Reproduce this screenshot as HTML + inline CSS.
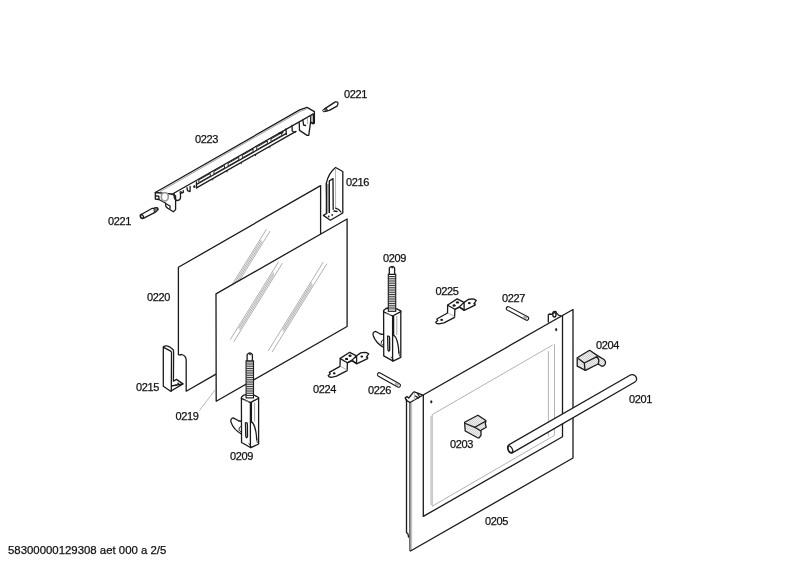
<!DOCTYPE html>
<html><head><meta charset="utf-8"><style>
html,body{margin:0;padding:0;background:#fff;width:800px;height:566px;overflow:hidden}
svg{position:absolute;left:0;top:0}
#labels{filter:grayscale(1)}
text{font-family:"Liberation Sans",sans-serif;font-size:11px;fill:#111;stroke:#111;stroke-width:0.25px;letter-spacing:-0.4px}
.d{fill:none;stroke:#1a1a1a;stroke-width:1.3;stroke-linejoin:round;stroke-linecap:round}
.l{fill:none;stroke:#aaa;stroke-width:0.9}
.w{fill:#fff;stroke:#1a1a1a;stroke-width:1.3;stroke-linejoin:round}
.g{fill:url(#st);stroke:#1a1a1a;stroke-width:1.3;stroke-linejoin:round}
</style></head><body>
<svg width="800" height="566" viewBox="0 0 800 566">

<!-- GLASS 0220 -->
<g id="glass">
<path class="d" d="M320.6,234 L320.6,185.6 L178.4,267.3 L178.4,354.5 L179.2,355.1 L181.8,354.5 Q186.2,356 186.2,360 L186.2,391.2 L216,374.1"/>
<g class="l" style="stroke:#8e8e8e;stroke-width:0.7">
<path d="M266.40,229.30 L228.77,290.00 M270.08,231.10 L233.57,290.00 M261.37,240.00 L230.37,290.00 M262.04,241.50 L231.04,291.50"/>
</g>
<!-- GLASS 0219 -->
<path class="w" d="M216,293.85 L347.1,219 L347.1,326.5 L216.2,401.3 Z"/>
<g class="l" style="stroke:#8e8e8e;stroke-width:0.7">
<path d="M278.60,261.70 L230.30,339.60 M282.47,263.20 L233.61,342.00 M273.50,272.50 L238.85,328.40 M274.17,274.00 L239.52,329.90"/>
<path d="M323.30,262.00 L268.12,351.00 M326.91,263.60 L272.10,352.00 M311.81,283.00 L282.67,330.00 M312.42,284.50 L283.28,331.50"/>
</g>
<line x1="199.4" y1="410.6" x2="215" y2="390" stroke="#999" stroke-width="0.7"/>
</g>
<!-- 0216 -->
<g id="p0216">
<path class="w" d="M335.6,167.5 L342.8,171.5 L342.8,213 L330.3,220.2 L323.4,215.4 L326.9,213.3 L326.4,183.1 Q328.5,173 335.6,167.5 Z"/>
<rect x="326.6" y="184" width="2.6" height="29" fill="#aaa"/>
<path class="d" d="M326.4,183.1 L326.4,213.3 M329.3,181 L333,178.6 L333.2,209.3 M329.3,181 L329.4,212.5"/>
<path class="l" d="M335.5,168 L335.6,208.2"/>
<path class="d" d="M335.6,208.2 Q339,209 341,212 M334,211 L337,211.5"/>
<circle cx="328.7" cy="216.5" r="0.9" fill="#222"/><circle cx="332.2" cy="214.9" r="0.9" fill="#222"/>
</g>
<!-- 0215 -->
<g id="p0215">
<path class="w" d="M163.3,346.9 Q167.5,344 173.4,350 L173.6,352.2 L173.4,381.2 L176.5,379.4 L182.9,383.9 L170.7,391.3 L163.3,386.3 Z"/>
<path class="d" d="M163.6,347.4 L170.7,351.1 L171.5,352.2 L171.3,391 M171.3,386 L182.9,383.9"/>
<circle cx="178.1" cy="383.4" r="0.9" fill="#222"/><circle cx="176" cy="385.2" r="0.9" fill="#222"/>
</g>
<!-- 0221 pins -->
<g id="p0221">
<path class="w" d="M141.2,214.5 L152.3,208.3 L154,208.3 L156,207.6 Q158.6,207.5 157.8,210 L156.7,210.9 L154.5,212.7 L143.8,218.2 Q139,219 141.2,214.5 Z"/>
<path fill="#777" stroke="#1a1a1a" stroke-width="0.9" d="M153.8,208.4 L156,207.6 Q158.6,207.5 157.8,210 L156.7,210.9 L154.5,212.7 Z"/>
<ellipse class="d" cx="141.9" cy="216.5" rx="1.4" ry="2.1" transform="rotate(-30 141.9 216.5)"/>
<path class="w" d="M326.1,107.9 L335.3,101.9 Q338.6,101.5 337.8,104.4 L337.1,106.1 L329.3,110.4 L326,111 L323.6,111.5 Q322.5,110 323.8,109.5 Z"/>
<path fill="#666" stroke="#1a1a1a" stroke-width="0.9" d="M326.1,107.9 L327.8,110.8 L323.6,111.5 Q322.5,110 323.8,109.5 Z"/><circle cx="323.9" cy="110.6" r="0.8" fill="#ddd"/>
</g>
<!-- BAR 0223 -->
<g id="bar">
<path fill="#fff" d="M155.3,192.5 L307.3,107.2 L314.8,111.7 L314.8,123.4 L309,135.4 L299.5,130.4 L296,133 L178,201 L175.6,209.6 L173.4,211.8 L165.9,206.5 L158.8,199.5 L155.3,199 Z"/>
<path class="d" d="M155.3,192.5 L299.7,109.9 L307,107.35 L314.4,111.6 L314.4,123.2 L312.7,123.7 L311.3,122.6"/>
<path fill="none" stroke="#8a8a8a" stroke-width="0.8" d="M160,191.6 L300,111.5 L306.5,109"/>
<path class="d" d="M155.3,192.5 L155.3,199 L158.8,199.5 L165.5,203 L165.9,206.5 L167.7,208.3 L173.4,211.8 L175.6,209.6 L175.6,195.9 L171.6,194 Z"/>
<path class="d" d="M156,196 L158.8,196.2 L159,199.2 M166.5,204 L170,206 L170,208.5"/>
<ellipse cx="164.8" cy="196.8" rx="3.5" ry="4.2" fill="#fff" stroke="#9a9a9a" stroke-width="1.7"/>
<path class="d" d="M171.6,194.50 L313.35,113.84 L313.35,123.6"/>
<path class="d" d="M196.5,184.53 L286,133.61"/>
<path class="d" d="M196.5,187.93 L296,131.32"/>
<g fill="#fff" stroke="#1a1a1a" stroke-width="0.9"><path d="M198.8,182.62 L198.8,180.02 L210.3,173.48 L210.3,176.08 Z M213.9,174.03 L213.9,171.43 L224.5,165.40 L224.5,168.00 Z M228.1,165.95 L228.1,163.35 L238.8,157.26 L238.8,159.86 Z M242.4,157.81 L242.4,155.21 L253.1,149.13 L253.1,151.73 Z M256.7,149.68 L256.7,147.08 L267.4,140.99 L267.4,143.59 Z M271.0,141.54 L271.0,138.94 L281.7,132.85 L281.7,135.45 Z"/></g>
<path fill="#1a1a1a" d="M212.0,179.4 l1.5,-0.2 l-0.6,1.6 Z M226.2,171.3 l1.5,-0.2 l-0.6,1.6 Z M240.5,163.2 l1.5,-0.2 l-0.6,1.6 Z M254.8,155.1 l1.5,-0.2 l-0.6,1.6 Z M269.1,146.9 l1.5,-0.2 l-0.6,1.6 Z"/>
<!-- left teeth -->
<path class="d" fill="#fff" d="M174.2,193.6 L174.2,197.5 Q175.5,201 178,200.4 Q180.8,199.5 180.6,196.5 L180.2,192"/>
<path class="d" d="M181,191.6 L181.8,193.2 L183.5,192.2 L183.2,190.6 M187,187.6 L187.5,190.6 L190.1,191.6 L190.1,186.3 M196.5,182 L196.5,187.93"/>
<path fill="#1a1a1a" d="M193,186 l2,-1 l0.5,2.5 l-1.8,0.5 Z"/>
<!-- right teeth -->
<path class="d" fill="#fff" d="M299.2,122.7 L299.5,130.4 L307.1,135.4 L308.75,135.4 L310.6,121.9 L313.35,123.6 M310.6,121.9 L310.8,116.2"/>
<path class="d" d="M303,120.5 L303.5,125 L305.5,125.5 M292,125.5 L292.2,131 L295,132.5 M286,129 L286.3,134.5 M279,133 Q282,134 283,132"/>
<path fill="none" stroke="#999" stroke-width="0.8" d="M307.5,117.5 L307.7,124"/>
</g>
<!-- HINGE 0209 -->
<g id="hinge">
<path class="w" d="M385,334.7 L380.8,334.2 L375.4,331.3 Q372.3,332 373.2,335.5 Q375.5,343 384.5,348 Z"/>
<path class="d" style="stroke-width:0.9" d="M380.8,334.2 Q382.5,333.8 383.5,335 M383.5,339.5 Q380.5,340.5 381.2,343.5 Q381.8,345 383.5,345.5"/>
<path class="w" d="M383.6,310.6 L386,308.5 L388.3,308 L396.8,308.8 L400.8,310.9 L400.8,357.4 L393.1,361.1 L383.75,355.9 Z"/>
<path class="d" d="M383.6,311.8 L392.6,316 L400.8,311.6 M392.6,316 L392.6,361 M393.6,335 Q398,338 399,353"/>
<path class="l" style="stroke:#999" d="M396.8,316 L396.8,335 M386,313.5 L391,315.3"/>
<path class="d" d="M393.6,316 L393.6,335.5"/>
<path class="d" d="M387.6,336.2 Q389.8,335.5 389.6,338.5 L389.7,350 Q388.8,352.3 388,350 Z"/>
<path class="d" style="stroke-width:0.8" d="M398.5,351 L399.5,356 M391,357 L393.5,360"/>
<rect x="388.3" y="274.3" width="7.4" height="37" fill="#fff" stroke="#1a1a1a" stroke-width="1.15"/>
<path stroke="#333" stroke-width="0.95" d="M388.5,276.5 H395.5 M388.5,278.3 H395.5 M388.5,280.1 H395.5 M388.5,281.9 H395.5 M388.5,283.7 H395.5 M388.5,285.5 H395.5 M388.5,287.3 H395.5 M388.5,289.1 H395.5 M388.5,290.9 H395.5 M388.5,292.7 H395.5 M388.5,294.5 H395.5 M388.5,296.3 H395.5 M388.5,298.1 H395.5 M388.5,299.9 H395.5 M388.5,301.7 H395.5 M388.5,303.5 H395.5 M388.5,305.3 H395.5 M388.5,307.1 H395.5 M388.5,308.9 H395.5"/>
<path class="w" d="M389.3,274.3 L389.3,268 Q392.2,264.8 394.6,268 L394.6,274.3 Z" fill="#eee"/>
<circle cx="392.2" cy="267.6" r="1" fill="#333"/>
</g>
<use href="#hinge" transform="translate(-142.2,86.6)"/>
<!-- BRACKET 0224 -->
<g id="bracket">
<path class="w" d="M340.2,358.4 L349.7,352.3 L356,355.6 L356.6,355.8 L360.7,352.9 L364.7,352.3 L366.4,352.6 L368.7,353.75 L367.8,355.2 L366.4,357.2 L367.6,357.4 L367.6,358.6 L356.6,363.8 L352,360.6 L347.4,362.9 L347.1,370.7 L336.5,376.2 L331.3,377.3 L329,376.75 L328.2,375.6 L330.2,373.9 L329.3,372.4 L340,366.4 Z"/>
<path class="d" d="M340.2,358.6 L347.4,362.7 L352,360.1 L356,356.3 M352,360.4 L356.6,363.5 L356.6,355.8"/>
<path class="l" d="M340.5,366.4 L347.1,370.1"/>
<ellipse cx="350" cy="355.8" rx="1.6" ry="1.2" fill="#1a1a1a"/><ellipse cx="346.6" cy="358.9" rx="1.6" ry="1.2" fill="#1a1a1a"/><ellipse cx="361.8" cy="356.6" rx="1.4" ry="1.1" fill="#1a1a1a"/><ellipse cx="334.2" cy="373.3" rx="1.4" ry="1.1" fill="#1a1a1a"/>
</g>
<use href="#bracket" transform="translate(107.5,-53.4)"/>

<!-- DOOR 0205 -->
<g id="door">
<path fill="#fff" d="M410,402.5 L573,309.5 L573,458 L410.5,551 Z"/>
<defs><pattern id="st" width="2" height="2" patternUnits="userSpaceOnUse"><rect width="2" height="2" fill="#eeeeee"/><rect width="1" height="1" fill="#d2d2d2"/><rect x="1" y="1" width="1" height="1" fill="#d2d2d2"/></pattern><linearGradient id="gs" x1="0" x2="1" y1="0" y2="0"><stop offset="0" stop-color="#5a5a5a"/><stop offset="1" stop-color="#e8e8e8"/></linearGradient><linearGradient id="gs2" x1="0" x2="1" y1="0" y2="0"><stop offset="0" stop-color="#909090"/><stop offset="1" stop-color="#f0f0f0"/></linearGradient></defs><rect x="409" y="402.5" width="3.4" height="148.5" fill="url(#gs)"/>
<path class="d" d="M405.3,398 L406.9,396.4 L408.7,398 L413.3,392.4 L414.3,391.9 L422.3,394.8"/>
<path class="d" d="M405.3,398 L406.4,400.4 L410,402.5"/>
<path class="d" d="M406.5,399.5 L406.5,532.6 L408,534 L408.5,537"/>
<path class="d" d="M410,402.5 L573,309.5 L573,458 L410.5,551"/>
<path class="d" d="M423.3,395.1 L423.3,516.4 L562.5,436.8 L562.5,315.5"/>
<path class="l" d="M414.3,392.5 L414.5,400.5"/>
<path class="d" d="M417.5,393.5 L419.5,396.5 M415.5,396 L418.5,398"/>
<!-- glass light -->
<path class="l" d="M432.2,414.6 L432.2,506.2 L554.5,435.3 L554.5,344.1"/>
<path class="l" d="M432.2,414.6 L552.7,345"/>
<path class="l" d="M548.4,351.2 L548.4,436.5"/>
<path class="l" d="M431,416 L431,505"/>
<!-- holes -->
<ellipse cx="431.3" cy="401.8" rx="1.1" ry="1.6" fill="#2a2a2a"/>
<ellipse cx="556.2" cy="329.6" rx="1.1" ry="1.6" fill="#2a2a2a"/>
<!-- hinge bump -->
<path class="d" d="M548.3,322 L548.3,314.8 L549.4,314 L552,314.3 L553.6,311.6 L555.7,311.4 L557,313.7 L558.9,315.3 L560.5,315.6"/>
<ellipse class="d" cx="554.4" cy="314.8" rx="1.6" ry="2.2"/>
</g>
<!-- HANDLE 0201 -->
<g id="handle">
<path class="w" d="M508.2,445.2 L630.8,374.8 Q636,374 636.7,379 Q636.5,381.5 634.5,382.3 L511.8,453.1 Q507,453 508.2,445.2 Z"/>
<ellipse class="d" cx="510.2" cy="449.2" rx="2" ry="3.6" transform="rotate(-30 510.2 449.2)"/>
</g>
<!-- 0204 -->
<g id="p0204">
<path class="g" d="M577.2,357.7 L589.6,350.3 L597.5,355.6 L602.8,358.8 Q606.5,361 605.2,364 Q604,366.5 601.8,366.2 L598.1,364 L585.4,370.4 L577.2,366.2 Z"/>
<path class="d" d="M578.5,358.8 L584.3,363 L597,356.7 M584.3,363 L585,370 M597,356.7 Q600,360 598.1,364"/>
</g>
<!-- 0203 -->
<g id="p0203">
<path class="g" d="M464.6,422.3 L477.9,415.2 L485.9,420.5 L485.3,423.5 L486.2,427.3 L481,430.3 L481,435.3 L479.1,437.8 L477.6,437.8 L465.2,431 Z"/>
<path class="d" d="M465.5,423.5 L474.8,427.3 L485.6,421.3 M474.8,427.3 L480.5,430.8"/>
</g>
<!-- pins 0226 0227 -->
<g id="pins">
<line x1="379.3" y1="374.6" x2="398.6" y2="385.3" stroke="#1a1a1a" stroke-width="4.8" stroke-linecap="round"/>
<line x1="379.3" y1="374.6" x2="398.6" y2="385.3" stroke="#fff" stroke-width="2.6" stroke-linecap="round"/>
<line x1="508.2" y1="308.5" x2="526.8" y2="318.4" stroke="#1a1a1a" stroke-width="4.8" stroke-linecap="round"/>
<line x1="508.2" y1="308.5" x2="526.8" y2="318.4" stroke="#fff" stroke-width="2.6" stroke-linecap="round"/>
<line x1="395" y1="383.2" x2="398.6" y2="385.3" stroke="#aaa" stroke-width="2.2"/>
<line x1="523.5" y1="316.7" x2="526.8" y2="318.4" stroke="#aaa" stroke-width="2.4"/>
</g>
<g id="labels">
<text x="344" y="98">0221</text>
<text x="195" y="143">0223</text>
<text x="346" y="185.5">0216</text>
<text x="108" y="225">0221</text>
<text x="383" y="261.5">0209</text>
<text x="435.5" y="295">0225</text>
<text x="502" y="302">0227</text>
<text x="147" y="301">0220</text>
<text x="596" y="349">0204</text>
<text x="136" y="391">0215</text>
<text x="313" y="392.5">0224</text>
<text x="368" y="394">0226</text>
<text x="629" y="403">0201</text>
<text x="175.5" y="419.5">0219</text>
<text x="450" y="447.5">0203</text>
<text x="230" y="459.5">0209</text>
<text x="485" y="524.5">0205</text>
<text x="8" y="553.7" style="font-size:11.4px;letter-spacing:0">58300000129308 aet 000 a 2/5</text>
</g>
</svg>
</body></html>
